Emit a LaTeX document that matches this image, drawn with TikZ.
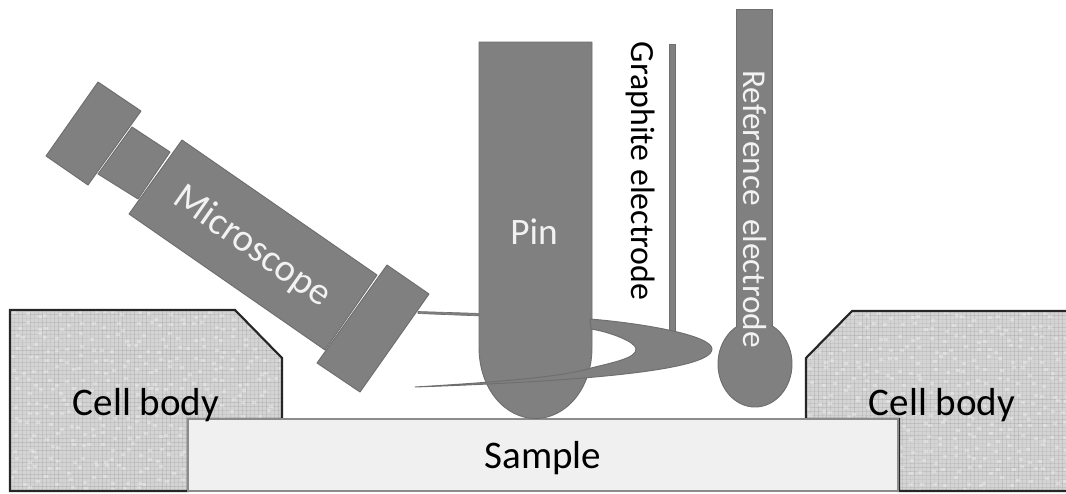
\documentclass[tikz,border=0pt]{standalone}
\usepackage{fontspec}
\setmainfont{Carlito}
\definecolor{partgray}{HTML}{808080}
\definecolor{edgegray}{HTML}{6E6E6E}
\definecolor{cellgray}{HTML}{D4D4D4}
\definecolor{samplegray}{HTML}{F0F0F0}
\definecolor{lighttext}{HTML}{F2F2F2}
\tikzset{
  part/.style={fill=partgray,draw=edgegray,line width=0.7pt,line join=round},
  cellbody/.style={draw=black!85,line width=1.6pt,line join=miter},
  samplebox/.style={fill=samplegray,draw=black!45,line width=0.8pt},
  darklabel/.style={text=black,font=\fontsize{29.3}{32}\selectfont,inner sep=0pt},
  lightlabel/.style={text=lighttext,font=\fontsize{29}{32}\selectfont,inner sep=0pt},
  sidelabel/.style={font=\fontsize{25.4}{28}\selectfont,inner sep=0pt}
}
\newcommand{\cellgrain}[4]{% x0 y0 x1 y1: mottled weave
  \pgfmathsetmacro{\xnext}{#1+4}
  \foreach \gx in {#1,\xnext,...,#3}{
    \pgfmathsetmacro{\shade}{35+int(random(0,30))}
    \draw[black!\shade!white,line width=0.6pt,opacity=0.16] (\gx,#2) -- (\gx,#4);
  }
  \pgfmathsetmacro{\ynext}{#2+4}
  \foreach \gy in {#2,\ynext,...,#4}{
    \pgfmathsetmacro{\shade}{35+int(random(0,30))}
    \draw[black!\shade!white,line width=0.6pt,opacity=0.16] (#1,\gy) -- (#3,\gy);
  }
  \pgfmathsetmacro{\xstep}{#1+11}
  \foreach \gx in {#1,\xstep,...,#3}{
    \pgfmathsetmacro{\ystep}{#2+11}
    \foreach \gy in {#2,\ystep,...,#4}{
      \pgfmathsetmacro{\px}{\gx+random(0,8)}
      \pgfmathsetmacro{\py}{\gy+random(0,8)}
      \fill[white,opacity=0.3] (\px,\py) rectangle ++(4,3);
    }
  }
}
\begin{document}
\begin{tikzpicture}[x=0.75pt,y=-0.75pt]
\useasboundingbox (0,0) rectangle (1066,493);
\pgfmathsetseed{7}
% cell bodies
\fill[cellgray] (10,310) -- (235,310) -- (282,358) -- (282,419) -- (188,419) -- (188,491) -- (10,491) -- cycle;
\begin{scope}
\clip (10,310) -- (235,310) -- (282,358) -- (282,419) -- (188,419) -- (188,491) -- (10,491) -- cycle;
\cellgrain{10}{310}{282}{491}
\end{scope}
\draw[cellbody] (10,310) -- (235,310) -- (282,358) -- (282,419) -- (188,419) -- (188,491) -- (10,491) -- cycle;
\fill[cellgray] (1066,311) -- (852,311) -- (806,358) -- (806,419) -- (899,419) -- (899,491) -- (1066,491) -- cycle;
\begin{scope}
\clip (1066,311) -- (852,311) -- (806,358) -- (806,419) -- (899,419) -- (899,491) -- (1066,491) -- cycle;
\cellgrain{806}{311}{1066}{491}
\end{scope}
\draw[cellbody] (1066,311) -- (852,311) -- (806,358) -- (806,419) -- (899,419) -- (899,491) -- (1066,491);
% sample
\draw[samplebox] (188,419) rectangle (898,491);
% microscope
\draw[part] (132,127) -- (170,152) -- (138,199) -- (98,174) -- cycle;
\draw[part] (98,82) -- (141,111) -- (88,185) -- (46,156) -- cycle;
\draw[part] (182,140) -- (377,275) -- (325,350) -- (129,214) -- cycle;
\draw[part] (387,265) -- (429,294) -- (360,392) -- (317,363) -- cycle;
% light ray behind the pin
\draw[part,line width=0.5pt] (418,311.5) -- (482,313.5) -- (482,316) -- (418,313.5) -- cycle;
% pin
\draw[part] (479,42) -- (592,42) -- (592,347) .. controls (592,390) and (565,418.5) .. (535.5,418.5) .. controls (506,418.5) and (479,390) .. (479,347) -- cycle;
% graphite electrode
\draw[part] (669,44) rectangle (675,332);
% crescent of light
\draw[part] (590,319) .. controls (640,323) and (712,335) .. (712,349)
  .. controls (712,372) and (560,382) .. (415,387)
  .. controls (480,383) and (560,378) .. (591,368)
  .. controls (615,362) and (636,358) .. (636,349)
  .. controls (636,342) and (610,332) .. (591,329) -- cycle;
% reference electrode
\draw[part] (736,9) -- (772,9) -- (772,330) -- (736,330) -- cycle;
\draw[part] (755,364) ellipse [x radius=37,y radius=43];
\fill[partgray] (737,310) rectangle (771,340);
% labels
\node[lightlabel,rotate=-35] (microscopelabel) at (252,247) {Microscope};
\node[lightlabel,font=\fontsize{28}{30}\selectfont] (pinlabel) at (534,232) {Pin};
\node[sidelabel,text=black,rotate=-90] (graphitelabel) at (641,171) {Graphite electrode};
\node[sidelabel,text=lighttext,rotate=-90,font=\fontsize{25}{28}\selectfont] (referencelabel) at (755,209) {Reference\, electrode};
\node[darklabel] (cellleft) at (146,405) {Cell body};
\node[darklabel] (cellright) at (942,405) {Cell body};
\node[darklabel] (samplelabel) at (543,458) {Sample};
\end{tikzpicture}
\end{document}
